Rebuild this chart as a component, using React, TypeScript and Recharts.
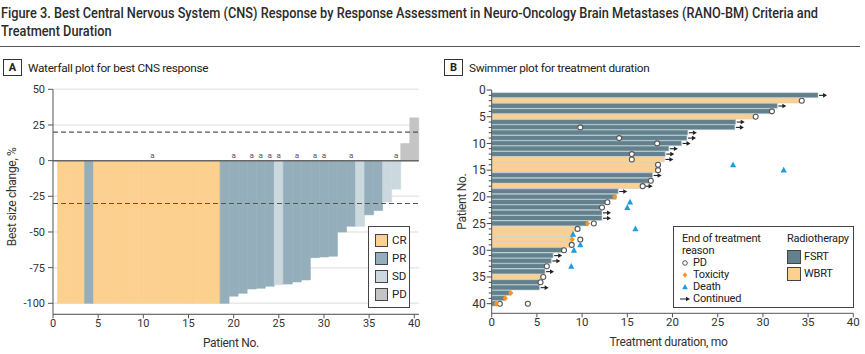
import React from 'react';
import { ComposedChart, Bar, Cell, Scatter, XAxis, YAxis, CartesianGrid, ReferenceLine, Label } from 'recharts';

const FONT = 'Roboto, "Noto Sans", sans-serif';

// ---- Panel A: waterfall ----
const patientNo = [1, 2, 3, 4, 5, 6, 7, 8, 9, 10, 11, 12, 13, 14, 15, 16, 17, 18, 19, 20,
    21, 22, 23, 24, 25, 26, 27, 28, 29, 30, 31, 32, 33, 34, 35, 36, 37, 38, 39, 40];
const bestChange = [-100, -100, -100, -100, -100, -100, -100, -100, -100, -100,
    -100, -100, -100, -100, -100, -100, -100, -100, -100, -95,
    -93, -90, -89.5, -88, -87, -86.5, -85, -83.6, -68, -67.5,
    -67, -50, -46, -46, -38, -35, -29, -20, 12, 30];
const bestResponse = ['CR', 'CR', 'CR', 'PR', 'CR', 'CR', 'CR', 'CR', 'CR', 'CR',
    'CR', 'CR', 'CR', 'CR', 'CR', 'CR', 'CR', 'CR', 'PR', 'PR',
    'PR', 'PR', 'PR', 'PR', 'SD', 'PR', 'PR', 'PR', 'PR', 'PR',
    'PR', 'PR', 'PR', 'SD', 'PR', 'PR', 'SD', 'SD', 'PD', 'PD'];
const footnotePatients = [11, 20, 22, 23, 24, 25, 27, 29, 30, 33, 38];
const waterfallTicksX = [0, 5, 10, 15, 20, 25, 30, 35, 40];
const waterfallTicksY = [-100, -75, -50, -25, 0, 25, 50];
const responseKeys = ['CR', 'PR', 'SD', 'PD'];

// ---- Panel B: swimmer ----
const durationMo = [36.1, 34.4, 31.6, 31.1, 29.2, 27.0, 26.9, 21.7, 21.6, 21.0,
    19.6, 19.2, 19.1, 18.6, 18.5, 17.8, 17.7, 16.8, 14.0, 13.8,
    13.0, 12.3, 12.2, 12.2, 10.6, 9.4, 9.0, 8.9, 8.8, 8.0,
    6.8, 6.6, 6.1, 5.9, 5.6, 5.3, 5.3, 2.0, 1.5, 0.5];
const radiotherapy = ['FSRT', 'WBRT', 'FSRT', 'FSRT', 'WBRT', 'FSRT', 'FSRT', 'FSRT', 'FSRT', 'FSRT',
    'FSRT', 'FSRT', 'WBRT', 'WBRT', 'WBRT', 'FSRT', 'FSRT', 'WBRT', 'FSRT', 'FSRT',
    'FSRT', 'FSRT', 'FSRT', 'FSRT', 'FSRT', 'WBRT', 'WBRT', 'WBRT', 'WBRT', 'FSRT',
    'FSRT', 'FSRT', 'FSRT', 'FSRT', 'WBRT', 'FSRT', 'FSRT', 'FSRT', 'FSRT', 'FSRT'];
// [patient, month]
const pdEvents = [[2, 34.3], [4, 31.0], [5, 29.2], [7, 9.8], [9, 14.1], [10, 18.3], [12, 15.5], [13, 15.5],
    [14, 18.4], [15, 18.4], [17, 17.6], [18, 16.7], [21, 12.8], [22, 12.2], [25, 11.3], [26, 9.5],
    [28, 9.8], [29, 8.85], [30, 8.0], [33, 6.1], [35, 5.7], [36, 5.4], [40, 0.9], [40, 4.0]];
const toxicityEvents = [[20, 13.6], [25, 10.6], [28, 8.9], [38, 2.1], [39, 1.5], [40, 0.5]];
const deathEvents = [[14, 26.7], [15, 32.3], [21, 15.3], [22, 15.0], [26, 15.9], [27, 9.0], [29, 9.8], [30, 9.1], [33, 8.8]];
const continuedPatients = [1, 3, 6, 7, 8, 9, 10, 11, 12, 13, 16, 18, 19, 23, 24, 31, 32, 34, 37];
const swimTicksX = [0, 5, 10, 15, 20, 25, 30, 35, 40];
const swimTicksY = [0, 1, 2, 3, 4, 5, 6, 7, 8, 9, 10, 11, 12, 13, 14, 15, 16, 17, 18, 19, 20,
    21, 22, 23, 24, 25, 26, 27, 28, 29, 30, 31, 32, 33, 34, 35, 36, 37, 38, 39, 40];

const responseColor: Record<string, string> = { CR: '#fcd08f', PR: '#94afbb', SD: '#cbd8de', PD: '#c4c4c4' };
const rtColor: Record<string, string> = { FSRT: '#62818d', WBRT: '#fdd08f' };
const ORANGE = '#f7941d';
const BLUE = '#1b9ddf';

const waterfallData = patientNo.map((p, i) => ({ patient: p, change: bestChange[i], response: bestResponse[i] }));
const footnoteData = footnotePatients.map(p => ({ patient: p, y: 0 }));
const swimData = patientNo.map((p, i) => ({ patient: p, duration: durationMo[i], rt: radiotherapy[i] }));
const toEvents = (list: number[][]) => list.map(([p, t]) => ({ patient: p, t }));
const continuedData = continuedPatients.map(p => ({ patient: p, t: durationMo[p - 1] }));

const axisText = { fontSize: 11, fill: '#333', fontFamily: FONT };
const axisTitle = { fontSize: 12, fill: '#333', fontFamily: FONT, letterSpacing: -0.3 };

const FootnoteShape = (props: any) => (
    <text x={props.cx} y={props.cy - 3} textAnchor="middle" fontSize={8} fill="#555" fontFamily={FONT}>a</text>
);
const PdShape = (props: any) => <circle cx={props.cx} cy={props.cy} r={2.5} fill="#fff" stroke="#555" strokeWidth={1.1} />;
const ToxShape = (props: any) => {
    const { cx, cy } = props;
    return <path d={`M${cx},${cy - 3} L${cx + 2.6},${cy} L${cx},${cy + 3} L${cx - 2.6},${cy} Z`} fill={ORANGE} />;
};
const DeathShape = (props: any) => {
    const { cx, cy } = props;
    return <path d={`M${cx},${cy - 3.4} L${cx + 3.1},${cy + 2.4} L${cx - 3.1},${cy + 2.4} Z`} fill={BLUE} />;
};
const ArrowShape = (props: any) => {
    const { cx, cy } = props;
    return (
        <g>
            <line x1={cx + 1} y1={cy} x2={cx + 6} y2={cy} stroke="#222" strokeWidth={1.1} />
            <path d={`M${cx + 9},${cy} L${cx + 5},${cy - 2.3} L${cx + 5},${cy + 2.3} Z`} fill="#222" />
        </g>
    );
};

// y ticks on the swimmer plot: a short mark for every patient, a label every 5
const SwimYTick = (props: any) => {
    const { x, y, payload } = props;
    const major = payload.value % 5 === 0;
    const axisX = x + 6;
    return (
        <g>
            <line x1={axisX - (major ? 5 : 3)} x2={axisX} y1={y} y2={y} stroke="#444" strokeWidth={1} />
            {major && (
                <text x={x} y={y} dy="0.36em" textAnchor="end" fontSize={12} fill="#333" fontFamily={FONT}>{payload.value}</text>
            )}
        </g>
    );
};

const abs = (left: number, top: number, extra: React.CSSProperties = {}): React.CSSProperties => (
    { position: 'absolute', left, top, whiteSpace: 'nowrap', ...extra }
);
const square = (left: number, top: number, color: string, size = 11) => (
    <div style={abs(left, top, { width: size, height: size, background: color, border: '1px solid #444' })} />
);

const PanelHeader = ({ letter, text, left }: { letter: string; text: string; left: number }) => (
    <div style={abs(left, 59, { display: 'flex', alignItems: 'center', fontFamily: FONT, color: '#222' })}>
        <div style={{ width: 17, height: 15, border: '1px solid #333', fontSize: 11, fontWeight: 700, textAlign: 'center', lineHeight: '15px' }}>{letter}</div>
        <div style={{ marginLeft: 6, fontSize: 11.8, letterSpacing: -0.3 }}>{text}</div>
    </div>
);

const legendIcons: Record<string, React.ReactNode> = {
    PD: <circle cx={5} cy={5} r={2.3} fill="#fff" stroke="#555" strokeWidth={1} />,
    Toxicity: <path d="M5,2.3 L7.3,5 L5,7.7 L2.7,5 Z" fill={ORANGE} />,
    Death: <path d="M5,2 L7.8,7.3 L2.2,7.3 Z" fill={BLUE} />,
    Continued: <g><line x1={0} y1={5} x2={6} y2={5} stroke="#222" /><path d="M10,5 L6,2.8 L6,7.2 Z" fill="#222" /></g>,
};

export default function App() {
    const titleLine: React.CSSProperties = { whiteSpace: 'nowrap', transform: 'scaleX(0.85)', transformOrigin: 'left center', height: 18 };
    return (
        <div style={{ position: 'absolute', left: 0, top: 0, width: 865, height: 354, background: '#fff', overflow: 'hidden' }}>
            <div style={abs(1, 4, { fontFamily: FONT, fontSize: 15, fontWeight: 500, lineHeight: '18px', color: '#2b2b2b' })}>
                <div style={titleLine}>Figure 3. Best Central Nervous System (CNS) Response by Response Assessment in Neuro-Oncology Brain Metastases (RANO-BM) Criteria and</div>
                <div style={titleLine}>Treatment Duration</div>
            </div>
            <div style={abs(0, 46, { width: 860, borderTop: '1.5px solid #555' })} />

            <PanelHeader letter="A" text="Waterfall plot for best CNS response" left={3} />
            <PanelHeader letter="B" text="Swimmer plot for treatment duration" left={444} />

            {/* Panel A */}
            <div style={abs(0, 80)}>
                <ComposedChart width={430} height={274} data={waterfallData} margin={{ top: 9.3, right: 11.2, bottom: 3.7, left: 0 }}>
                    <CartesianGrid vertical={false} stroke="#e8e8e8" strokeWidth={1.5} />
                    <XAxis type="number" dataKey="patient" domain={[0, 40.5]} ticks={waterfallTicksX} height={36}
                        tick={axisText} tickSize={4} tickMargin={1} stroke="#555" interval={0}>
                        <Label value="Patient No." position="insideBottom" offset={3} dx={-5} style={axisTitle} />
                    </XAxis>
                    <YAxis type="number" domain={[-107.7, 50]} ticks={waterfallTicksY} width={53}
                        tick={axisText} tickSize={5} tickMargin={3} stroke="#555" interval={0}>
                        <Label value="Best size change, %" angle={-90} position="insideLeft" offset={12} dy={-5}
                            style={{ ...axisTitle, textAnchor: 'middle' }} />
                    </YAxis>
                    <Bar dataKey="change" barSize={9} isAnimationActive={false}>
                        {waterfallData.map((d, i) => (
                            <Cell key={`w-${i}`} fill={responseColor[d.response]} stroke={responseColor[d.response]} strokeWidth={0.6} />
                        ))}
                    </Bar>
                    <ReferenceLine y={0} stroke="#666" strokeWidth={1.5} />
                    <ReferenceLine y={20} stroke="#555" strokeDasharray="5 3" strokeWidth={1.1} />
                    <ReferenceLine y={-30} stroke="#555" strokeDasharray="5 3" strokeWidth={1.1} />
                    <Scatter data={footnoteData} dataKey="y" shape={FootnoteShape} isAnimationActive={false} />
                </ComposedChart>
            </div>

            <div style={abs(368, 226, { width: 42, height: 82, border: '1px solid #444', background: '#fff', boxSizing: 'border-box',
                fontFamily: FONT, fontSize: 11.5, color: '#222' })}>
                {responseKeys.map((k, i) => (
                    <React.Fragment key={k}>
                        {square(6, 7 + i * 18, responseColor[k])}
                        <div style={abs(23, 6 + i * 18, { lineHeight: '14px' })}>{k}</div>
                    </React.Fragment>
                ))}
            </div>

            {/* Panel B */}
            <div style={abs(430, 80)}>
                <ComposedChart layout="vertical" width={435} height={274} data={swimData} margin={{ top: 10, right: 11.7, bottom: 4.7, left: 0 }}>
                    <XAxis type="number" domain={[0, 40]} ticks={swimTicksX} height={36}
                        tick={{ ...axisText, fontSize: 11.5 }} tickSize={4} tickMargin={1} stroke="#555" interval={0}>
                        <Label value="Treatment duration, mo" position="insideBottom" offset={3} dx={-4} style={axisTitle} />
                    </XAxis>
                    <YAxis type="number" dataKey="patient" domain={[0, 41.8]} ticks={swimTicksY} width={61.7}
                        tick={<SwimYTick />} tickLine={false} tickSize={0} tickMargin={6} stroke="#555" interval={0}>
                        <Label value="Patient No." angle={-90} position="insideLeft" offset={31.7}
                            style={{ ...axisTitle, textAnchor: 'middle' }} />
                    </YAxis>
                    <Bar dataKey="duration" barSize={5} stroke="#c3d1d7" strokeWidth={0.6} isAnimationActive={false}>
                        {swimData.map((d, i) => (
                            <Cell key={`s-${i}`} fill={rtColor[d.rt]} />
                        ))}
                    </Bar>
                    <Scatter data={continuedData} dataKey="t" shape={ArrowShape} isAnimationActive={false} />
                    <Scatter data={toEvents(pdEvents)} dataKey="t" shape={PdShape} isAnimationActive={false} />
                    <Scatter data={toEvents(toxicityEvents)} dataKey="t" shape={ToxShape} isAnimationActive={false} />
                    <Scatter data={toEvents(deathEvents)} dataKey="t" shape={DeathShape} isAnimationActive={false} />
                </ComposedChart>
            </div>

            <div style={abs(673, 226, { width: 181, height: 82, border: '1px solid #444', background: '#fff', boxSizing: 'border-box',
                fontFamily: FONT, fontSize: 11, color: '#222', letterSpacing: -0.2 })}>
                <div style={abs(8, 6, { lineHeight: '11px' })}>End of treatment</div>
                <div style={abs(8, 18, { lineHeight: '11px' })}>reason</div>
                {['PD', 'Toxicity', 'Death', 'Continued'].map((k, i) => (
                    <React.Fragment key={k}>
                        <svg width={11} height={10} style={abs(6, 30.5 + i * 12)}>{legendIcons[k]}</svg>
                        <div style={abs(19, 30 + i * 12, { lineHeight: '11px' })}>{k}</div>
                    </React.Fragment>
                ))}
                <div style={abs(113, 6, { lineHeight: '11px' })}>Radiotherapy</div>
                {['FSRT', 'WBRT'].map((k, i) => (
                    <React.Fragment key={k}>
                        {square(113, 23 + i * 17, rtColor[k], 12)}
                        <div style={abs(130, 23 + i * 17, { lineHeight: '14px' })}>{k}</div>
                    </React.Fragment>
                ))}
            </div>
        </div>
    );
}
